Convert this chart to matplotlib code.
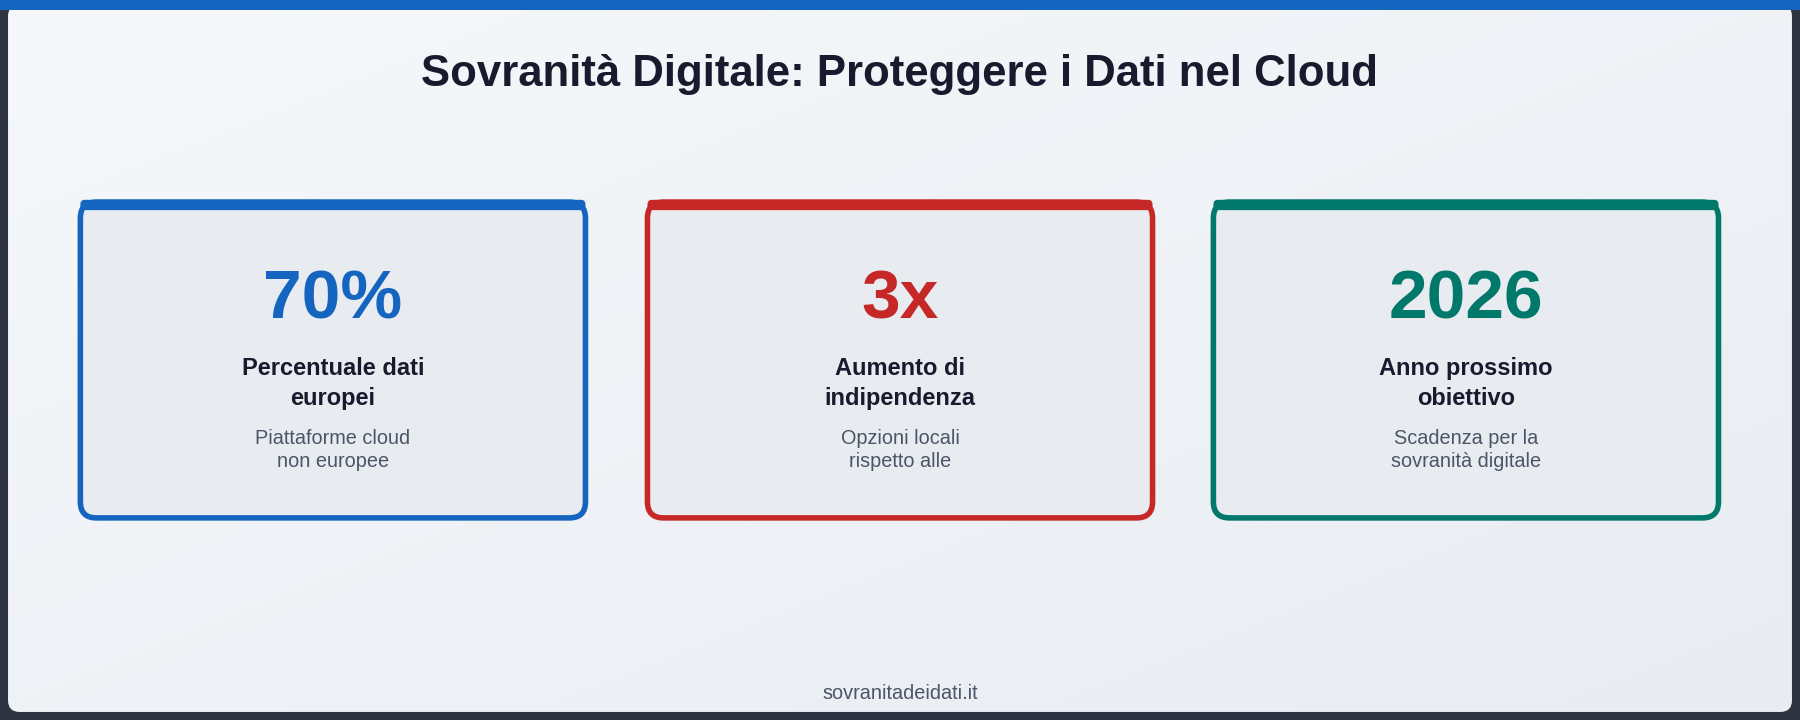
import matplotlib
matplotlib.use("Agg")
import matplotlib.pyplot as plt
from matplotlib.patches import FancyBboxPatch, Rectangle
import numpy as np

title = "Sovranità Digitale: Proteggere i Dati nel Cloud"
values = ["70%", "3x", "2026"]
labels = ["Percentuale dati\neuropei", "Aumento di\nindipendenza", "Anno prossimo\nobiettivo"]
subs = ["Piattaforme cloud\nnon europee", "Opzioni locali\nrispetto alle", "Scadenza per la\nsovranità digitale"]
colors = ["#1565c0", "#c62828", "#00796b"]
footer = "sovranitadeidati.it"

plt.rcParams['font.family'] = ['Liberation Sans', 'DejaVu Sans']
W, H = 1568, 627
fig = plt.figure(figsize=(18, 7.2), dpi=100)
fig.patch.set_facecolor("#2d3340")
ax = fig.add_axes([0, 0, 1, 1])
ax.set_xlim(0, W); ax.set_ylim(H, 0); ax.axis("off")

grad = np.linspace(0, 1, 256)
gx, gy = np.meshgrid(grad, grad)
g = (gx + gy) / 2
c1 = np.array([0.965, 0.973, 0.984]); c2 = np.array([0.91, 0.925, 0.945])
img = c1[None, None, :] * (1 - g[..., None]) + c2[None, None, :] * g[..., None]
panel = FancyBboxPatch((7, 4), W - 14, H - 11, boxstyle="round,pad=0,rounding_size=10",
                       facecolor="none", edgecolor="none")
ax.add_patch(panel)
im = ax.imshow(img, extent=[7, W - 7, H - 7, 4], aspect="auto", zorder=0)
im.set_clip_path(panel)
ax.add_patch(Rectangle((0, 0), W, 9, facecolor="#1565c0", edgecolor="none", zorder=2))

ax.text(W / 2, 65, title, ha="center", va="center", fontsize=31.5, fontweight="bold", color="#1a1a2e")

xs = [68, 562, 1055]
cw, y0, ch = 444, 174, 279
for x, v, l, s, c in zip(xs, values, labels, subs, colors):
    ax.add_patch(FancyBboxPatch((x + 2, y0 + 2), cw - 4, ch - 4, boxstyle="round,pad=0,rounding_size=14",
                                facecolor="#e8ecf1", edgecolor=c, linewidth=4, zorder=3))
    ax.add_patch(FancyBboxPatch((x + 2, y0), cw - 4, 9, boxstyle="round,pad=0,rounding_size=4",
                                facecolor=c, edgecolor="none", zorder=4))
    cx = x + cw / 2
    ax.text(cx, 262, v, ha="center", va="center", fontsize=50, fontweight="bold", color=c, zorder=5)
    ax.text(cx, 334, l, ha="center", va="center", fontsize=17, fontweight="bold", color="#1a1a2e",
            linespacing=1.35, zorder=5)
    ax.text(cx, 392, s, ha="center", va="center", fontsize=14.3, color="#4a5566", linespacing=1.3, zorder=5)

ax.text(W / 2, 604, footer, ha="center", va="center", fontsize=14.3, color="#4a5566")
fig.savefig("out.png", dpi=100, facecolor=fig.get_facecolor())
